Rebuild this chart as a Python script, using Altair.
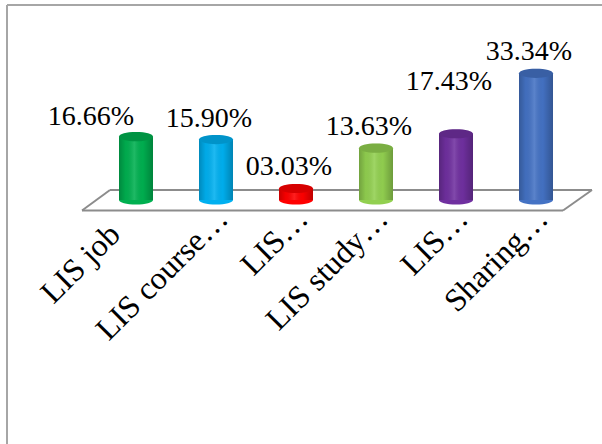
import altair as alt
import pandas as pd

# ---- data ----
labels = ["LIS job", "LIS course\u2026", "LIS\u2026", "LIS study\u2026", "LIS\u2026", "Sharing\u2026"]
values = [16.66, 15.90, 3.03, 13.63, 17.43, 33.34]
value_text = ["16.66%", "15.90%", "03.03%", "13.63%", "17.43%", "33.34%"]
colors = ["#00B050", "#00B0F0", "#FF0000", "#92D050", "#7030A0", "#4472C4"]

df = pd.DataFrame({
    "idx": list(range(len(labels))),
    "label": labels,
    "value": values,
    "text": value_text,
    "zero": [0.0] * len(labels),
})

W, H = 480, 152
SERIF = "Liberation Serif"
ELLIPSE = ("M-1,0C-1,-0.149,-0.552,-0.27,0,-0.27C0.552,-0.27,1,-0.149,1,0"
           "C1,0.149,0.552,0.27,0,0.27C-0.552,0.27,-1,0.149,-1,0Z")
BAR_W = 34

label_expr = "[" + ",".join("'%s'" % l for l in labels) + "][datum.value]"

x_enc = alt.X(
    "idx:O",
    scale=alt.Scale(paddingInner=0, paddingOuter=0),
    axis=alt.Axis(
        title=None,
        labelExpr=label_expr,
        labelAngle=-45,
        labelAlign="right",
        labelBaseline="alphabetic",
        labelFont=SERIF,
        labelFontSize=32,
        labelColor="black",
        labelPadding={"condition": {"test": "datum.value == 0", "value": 36}, "value": 20},
        labelOffset={"condition": {"test": "datum.value == 0", "value": -14}, "value": 14},
        labelOverlap=False,
        labelLimit=0,
        domain=False,
        ticks=False,
        grid=False,
    ),
)
y_scale = alt.Scale(domain=[0, 40], nice=False, zero=True)
y_enc = alt.Y("value:Q", scale=y_scale, axis=None)
y_zero = alt.Y("zero:Q", scale=y_scale, axis=None)
color_enc = alt.Color("idx:O", scale=alt.Scale(domain=list(range(len(labels))), range=colors), legend=None)

shade = alt.LinearGradient(
    gradient="linear", x1=0, x2=1, y1=0, y2=0,
    stops=[
        alt.GradientStop(color="rgba(0,0,0,0.22)", offset=0),
        alt.GradientStop(color="rgba(0,0,0,0.04)", offset=0.2),
        alt.GradientStop(color="rgba(255,255,255,0.12)", offset=0.45),
        alt.GradientStop(color="rgba(0,0,0,0.02)", offset=0.7),
        alt.GradientStop(color="rgba(0,0,0,0.25)", offset=1),
    ],
)

base = alt.Chart(df)

FLOOR = "#8C8C8C"
frame_col = "#A6A6A6"

def seg(x1, y1, x2, y2, color, w=2):
    return alt.Chart(df.head(1)).mark_rule(color=color, strokeWidth=w).encode(
        x=alt.value(x1), x2=alt.value(x2), y=alt.value(y1), y2=alt.value(y2)
    )

floor = [
    seg(-14, 162.5, 467, 162.5, FLOOR),
    seg(14, 142, 496, 142, FLOOR),
    seg(-14, 162.5, 14, 142, FLOOR),
    seg(467, 162.5, 496, 142, FLOOR),
]
frame = [
    seg(-89, -43, -89, 396, frame_col),
    seg(-89, -43, 506, -43, frame_col),
]

bottom_ell = base.mark_point(shape=ELLIPSE, filled=True, size=BAR_W ** 2, opacity=1, strokeWidth=0).encode(
    x=x_enc, y=y_zero, color=color_enc
)
bars = base.mark_bar(size=BAR_W).encode(x=x_enc, y=y_enc, color=color_enc)
bar_shade = base.mark_bar(size=BAR_W, fill=shade).encode(x=x_enc, y=y_enc)
top_ell = base.mark_point(shape=ELLIPSE, filled=True, size=BAR_W ** 2, opacity=1, strokeWidth=0).encode(
    x=x_enc, y=y_enc, color=color_enc
)
top_dark = base.mark_point(shape=ELLIPSE, filled=True, size=BAR_W ** 2, opacity=0.16, strokeWidth=0, color="black").encode(
    x=x_enc, y=y_enc
)

def lbl(filter_expr, dx, dy):
    return base.transform_filter(filter_expr).mark_text(
        font=SERIF, fontSize=28, color="black", baseline="middle", align="center", dx=dx, dy=dy
    ).encode(x=x_enc, y=y_enc, text="text:N")

texts = [
    lbl("datum.idx != 0 && datum.idx != 4", -7, -21),
    lbl("datum.idx == 0", -45, -20),
    lbl("datum.idx == 4", -7, -52),
]

chart = alt.layer(
    *floor, bottom_ell, bars, bar_shade, top_ell, top_dark, *texts, *frame
).properties(
    width=W, height=H,
    autosize=alt.AutoSizeParams(type="none"),
    padding={"left": 96, "top": 48, "right": 26, "bottom": 244},
    background="white",
).configure_view(stroke=None).configure_text(font=SERIF).configure_mark(font=SERIF)

chart.save("out.html", embed_options={"renderer": "svg", "actions": False})
